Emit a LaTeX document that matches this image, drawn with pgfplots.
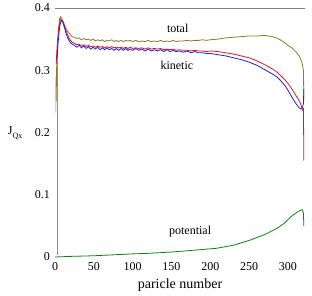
\documentclass[border=0pt]{standalone}
\usepackage{fontspec}
\setmainfont{Liberation Serif}
\usepackage{pgfplots}
\pgfplotsset{compat=1.18}
\definecolor{cTot}{RGB}{140,124,40}
\definecolor{cRed}{RGB}{230,20,30}
\definecolor{cBlue}{RGB}{30,30,225}
\definecolor{cGreen}{RGB}{16,128,16}
\begin{document}
\fontsize{12}{14}\selectfont
\begin{tikzpicture}
\path[use as bounding box] (-55pt,-38pt) rectangle (257pt,257pt);
\begin{axis}[
  scale only axis, width=250pt, height=249pt,
  xmin=0, xmax=322, ymin=0, ymax=0.4,
  axis line style={draw=none},
  clip=false,
  xtick={0,50,100,150,200,250,300},
  xticklabels={0,50,100,150,200,250,300},
  ytick={0,0.1,0.2,0.3,0.4},
  yticklabels={0,0.1,0.2,0.3,0.4},
  major tick length=0pt,
  /pgf/number format/assume math mode=true,
  tick label style={font=\rmfamily\fontsize{12}{14}\selectfont},
  xticklabel style={yshift=-1pt},
  yticklabel style={xshift=-1pt},
  xlabel={paricle number},
  xlabel style={font=\rmfamily\fontsize{14}{16}\selectfont, yshift=0pt},
]
\addplot[gray, line width=0.6pt] coordinates {(0,0.4)(322,0.4)};
% total
\addplot[cTot, line width=0.8pt] coordinates {
(1.5,0.25)(2,0.30)(2.5,0.32)(4,0.35)(5,0.37)(6,0.383)(7,0.386)(8,0.385)(10,0.38)(12,0.374)(14,0.368)(16,0.363)(18,0.360)
(20,0.357)(22,0.354)(25,0.353)(28,0.351)(31,0.352)(34,0.349)(37,0.351)(40,0.349)(43,0.350)(46,0.348)(49,0.350)(52,0.347)(55,0.349)(58,0.347)(61,0.349)(64,0.346)(67,0.348)(70,0.347)(73,0.349)(76,0.346)(79,0.348)(82,0.346)(85,0.348)(88,0.346)(91,0.348)(94,0.347)(97,0.348)(100,0.346)(104,0.348)(108,0.346)(112,0.347)(116,0.346)(120,0.348)(124,0.346)(128,0.347)(132,0.346)(136,0.348)(140,0.346)(144,0.347)(148,0.346)(152,0.348)(156,0.346)(160,0.347)(165,0.347)(170,0.348)(175,0.347)(180,0.348)(185,0.348)(190,0.349)(195,0.348)(200,0.349)
(210,0.350)(220,0.352)(230,0.353)(240,0.354)(250,0.355)(260,0.355)(270,0.356)(275,0.355)(280,0.354)(285,0.352)(290,0.349)(295,0.345)(300,0.340)(305,0.336)(310,0.330)(315,0.322)(318,0.313)(320,0.300)(320.5,0.25)};
% kinetic red
\addplot[cRed!70, line width=0.5pt] coordinates {(1,0.232)(1.3,0.29)};
\addplot[cRed, line width=0.8pt] coordinates {
(1.5,0.31)(3,0.345)(5,0.37)(7,0.382)(9,0.38)(11,0.374)(12,0.37)(14,0.364)(16,0.358)(18,0.352)(20,0.348)(22,0.345)(25,0.343)(28,0.341)(31,0.342)(34,0.339)(37,0.341)(40,0.338)(43,0.340)(46,0.338)(49,0.339)(52,0.337)(55,0.339)(58,0.337)(61,0.338)(64,0.336)(67,0.338)(70,0.336)(73,0.338)(76,0.336)(79,0.337)(82,0.336)(85,0.337)(88,0.335)(91,0.337)(94,0.335)(97,0.337)(100,0.335)(104,0.336)(108,0.335)(112,0.336)(116,0.334)(120,0.336)(124,0.334)(128,0.335)(132,0.334)(136,0.335)(140,0.333)(144,0.334)(148,0.333)(152,0.334)(156,0.332)(160,0.333)(165,0.332)(170,0.332)(175,0.331)(180,0.332)(185,0.331)(190,0.331)(195,0.330)(200,0.331)
(210,0.330)(220,0.328)(230,0.326)(240,0.323)(250,0.320)(260,0.315)(270,0.309)(280,0.302)(286,0.297)(290,0.292)(295,0.286)(300,0.279)(305,0.270)(310,0.260)(315,0.250)(318,0.240)(319,0.236)(320,0.238)(320.5,0.155)};
% kinetic blue
\addplot[cBlue!55, line width=0.5pt] coordinates {(2.5,0.003)(2.5,0.315)};
\addplot[cBlue, line width=0.8pt] coordinates {
(2.5,0.315)(4,0.345)(6,0.37)(8,0.38)(10,0.378)(12,0.37)(14,0.36)(16,0.353)(18,0.348)(20,0.344)(22,0.342)(25,0.340)(28,0.337)(31,0.340)(34,0.336)(37,0.339)(40,0.335)(43,0.338)(46,0.334)(49,0.337)(52,0.334)(55,0.337)(58,0.333)(61,0.336)(64,0.333)(67,0.336)(70,0.333)(73,0.335)(76,0.332)(79,0.335)(82,0.332)(85,0.335)(88,0.332)(91,0.335)(94,0.332)(97,0.334)(100,0.332)(104,0.335)(108,0.332)(112,0.334)(116,0.331)(120,0.334)(124,0.331)(128,0.333)(132,0.331)(136,0.333)(140,0.330)(144,0.333)(148,0.330)(152,0.332)(156,0.330)(160,0.331)(165,0.329)(170,0.331)(175,0.328)(180,0.330)(185,0.328)(190,0.328)(195,0.327)(200,0.327)
(210,0.325)(220,0.323)(230,0.320)(240,0.317)(250,0.313)(260,0.308)(270,0.301)(280,0.294)(286,0.289)(290,0.284)(295,0.277)(300,0.268)(305,0.257)(310,0.247)(313,0.242)(315,0.239)(317,0.238)(319,0.241)(320,0.247)(320.5,0.27)};
% potential
\addplot[cGreen, line width=0.8pt] coordinates {
(0,0)(20,0.001)(50,0.002)(100,0.005)(122,0.006)(150,0.008)(180,0.011)(208,0.014)(230,0.019)(251,0.027)(270,0.036)(286,0.046)(295,0.054)(300,0.060)(306,0.067)(312,0.072)(316,0.075)(318,0.076)(319,0.075)(320,0.070)(320.5,0.05)};
\node at (axis cs:158,0.368) {total};
\node at (axis cs:157,0.307) {kinetic};
\node at (axis cs:174,0.040) {potential};
\node[anchor=base west, inner sep=0pt] at (axis cs:-61,0.197) {J\textsubscript{\raisebox{-0.5ex}{Qx}}};
\end{axis}
\end{tikzpicture}
\end{document}
